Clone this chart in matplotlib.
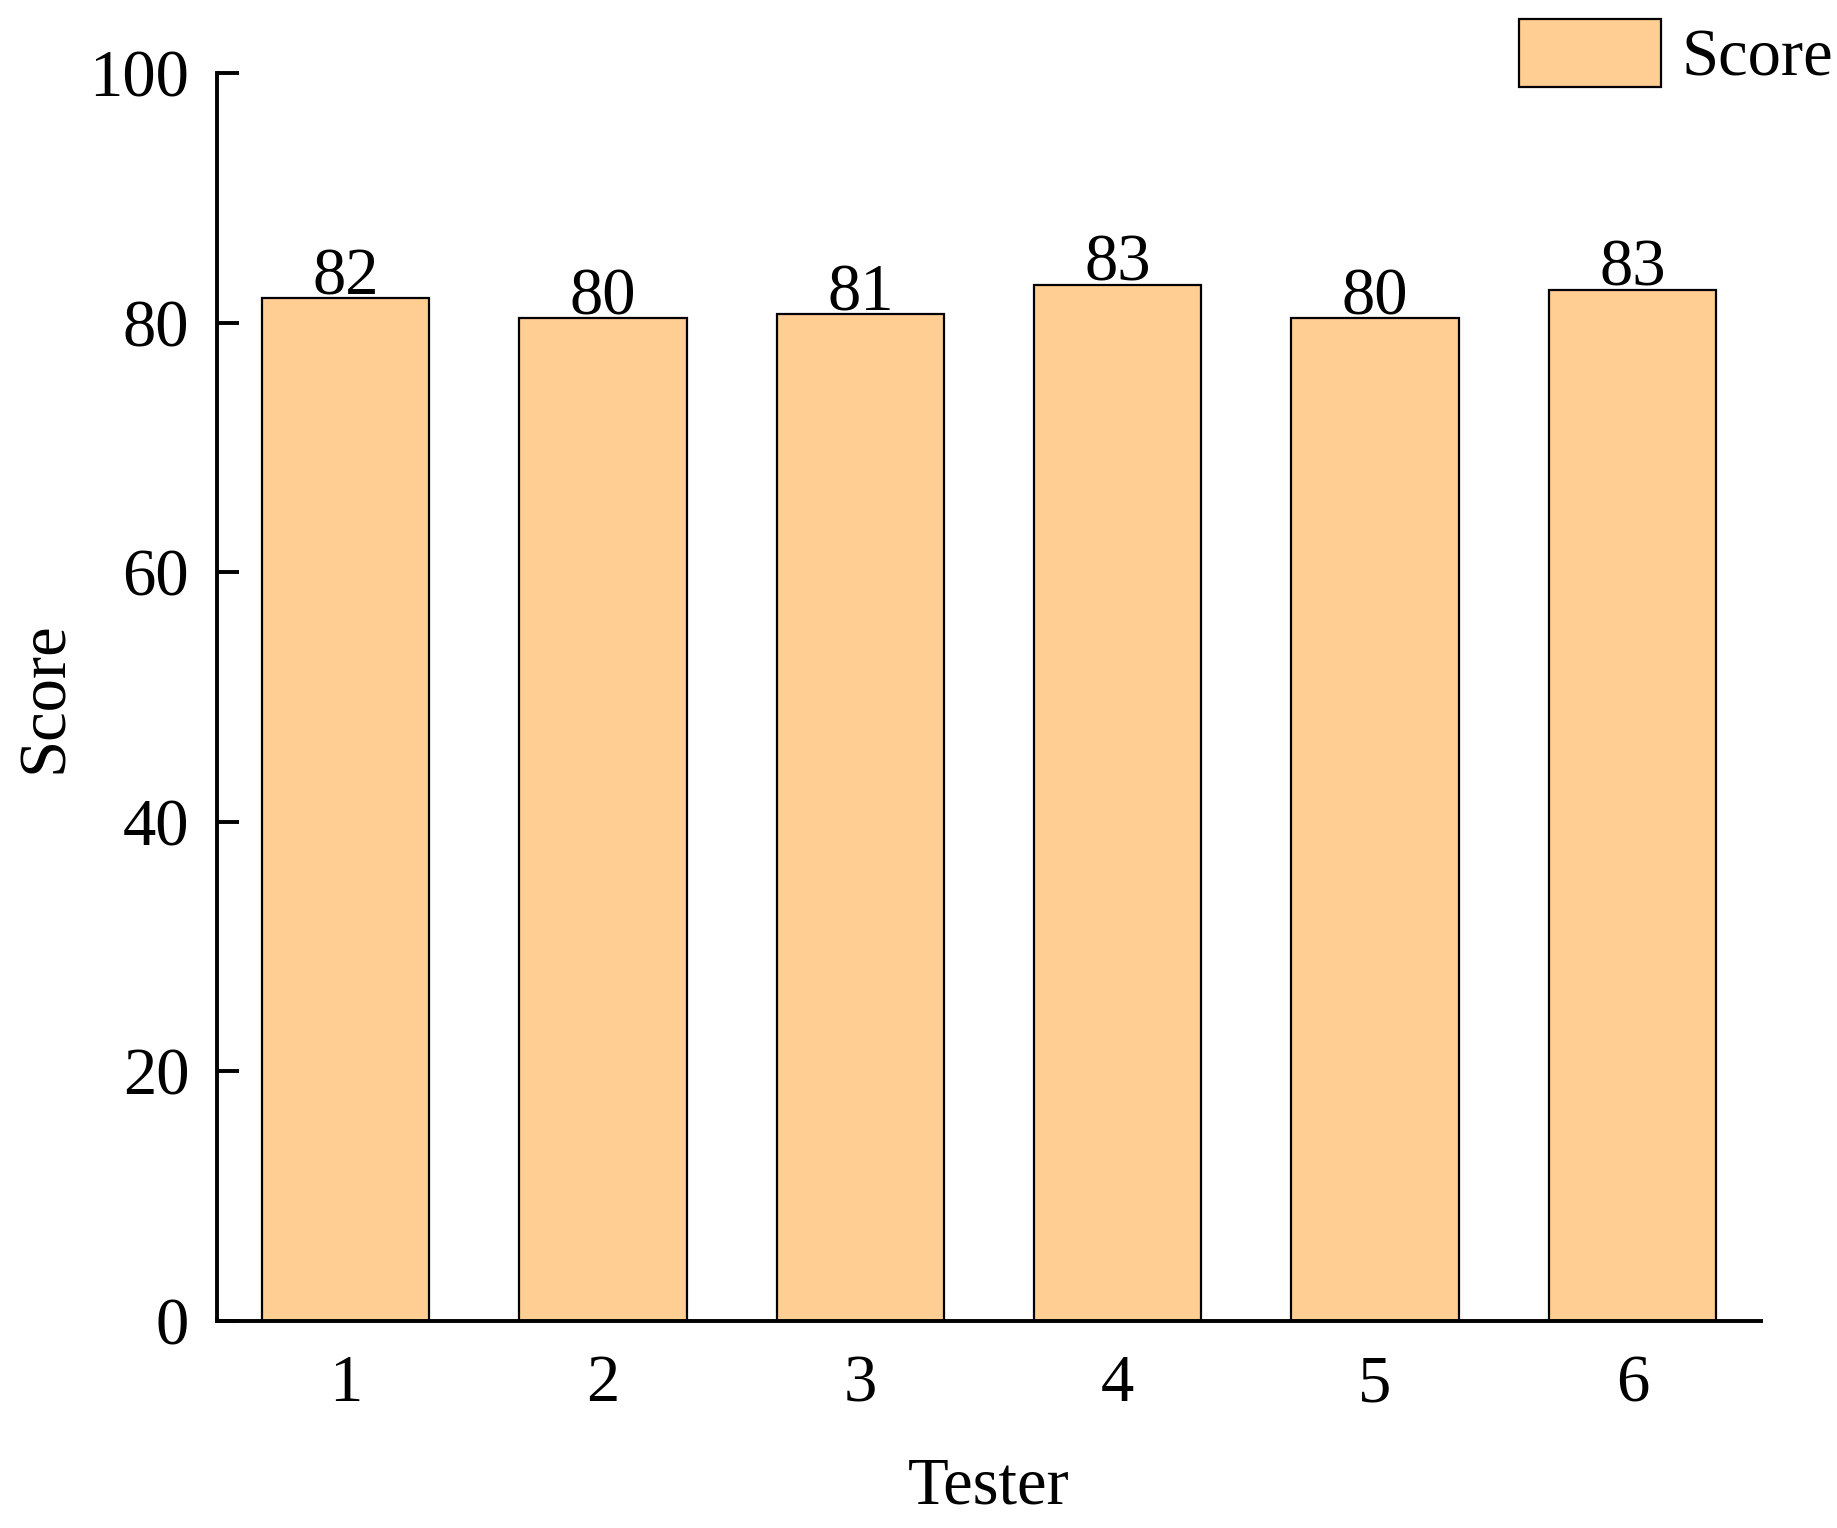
import matplotlib
matplotlib.use("Agg")
import matplotlib.pyplot as plt

testers = ["1", "2", "3", "4", "5", "6"]
scores = [81.95, 80.35, 80.65, 83.0, 80.35, 82.6]
yticks = [0, 20, 40, 60, 80, 100]

plt.rcParams['font.family'] = ['Liberation Serif', 'DejaVu Serif']
FS = 48

fig = plt.figure(figsize=(18.37, 15.28), dpi=100)
ax = fig.add_axes([217/1837, 1-1321/1528, (1761-217)/1837, (1321-73)/1528])

x = list(range(1, len(testers)+1))
bars = ax.bar(x, scores, width=0.65, color='#FFCE93', edgecolor='black',
              linewidth=1.6, label='Score', zorder=2)
for xi, v in zip(x, scores):
    ax.annotate(f"{round(v):d}", (xi, v), xytext=(0, 3), textcoords='offset points',
                ha='center', va='baseline', fontsize=FS)

ax.set_xlim(0.5, 6.5)
ax.set_ylim(0, 100)
ax.set_yticks(yticks)
ax.set_yticklabels([str(t) for t in yticks])
ax.set_xticks(x)
ax.set_xticklabels(testers)
ax.tick_params(axis='y', direction='in', length=16, width=2.8, labelsize=FS, pad=20)
ax.tick_params(axis='x', length=0, labelsize=FS, pad=24)
for s in ['top', 'right']:
    ax.spines[s].set_visible(False)
for s in ['left', 'bottom']:
    ax.spines[s].set_linewidth(2.8)

ax.set_xlabel('Tester', fontsize=FS)
ax.set_ylabel('Score', fontsize=FS)
ax.xaxis.set_label_coords(0.5, -0.133)
ax.xaxis.label.set_va('center')
ax.yaxis.set_label_coords(-0.1108, 0.5)
ax.yaxis.label.set_va('center')

leg = fig.legend(handles=[bars], labels=['Score'], loc='upper left',
                 bbox_to_anchor=(1519/1837, 1-19/1528), frameon=False,
                 fontsize=FS, handlelength=2.13, handleheight=1.2,
                 handletextpad=0.3, borderpad=0, borderaxespad=0)

fig.savefig('out.png', dpi=100)
